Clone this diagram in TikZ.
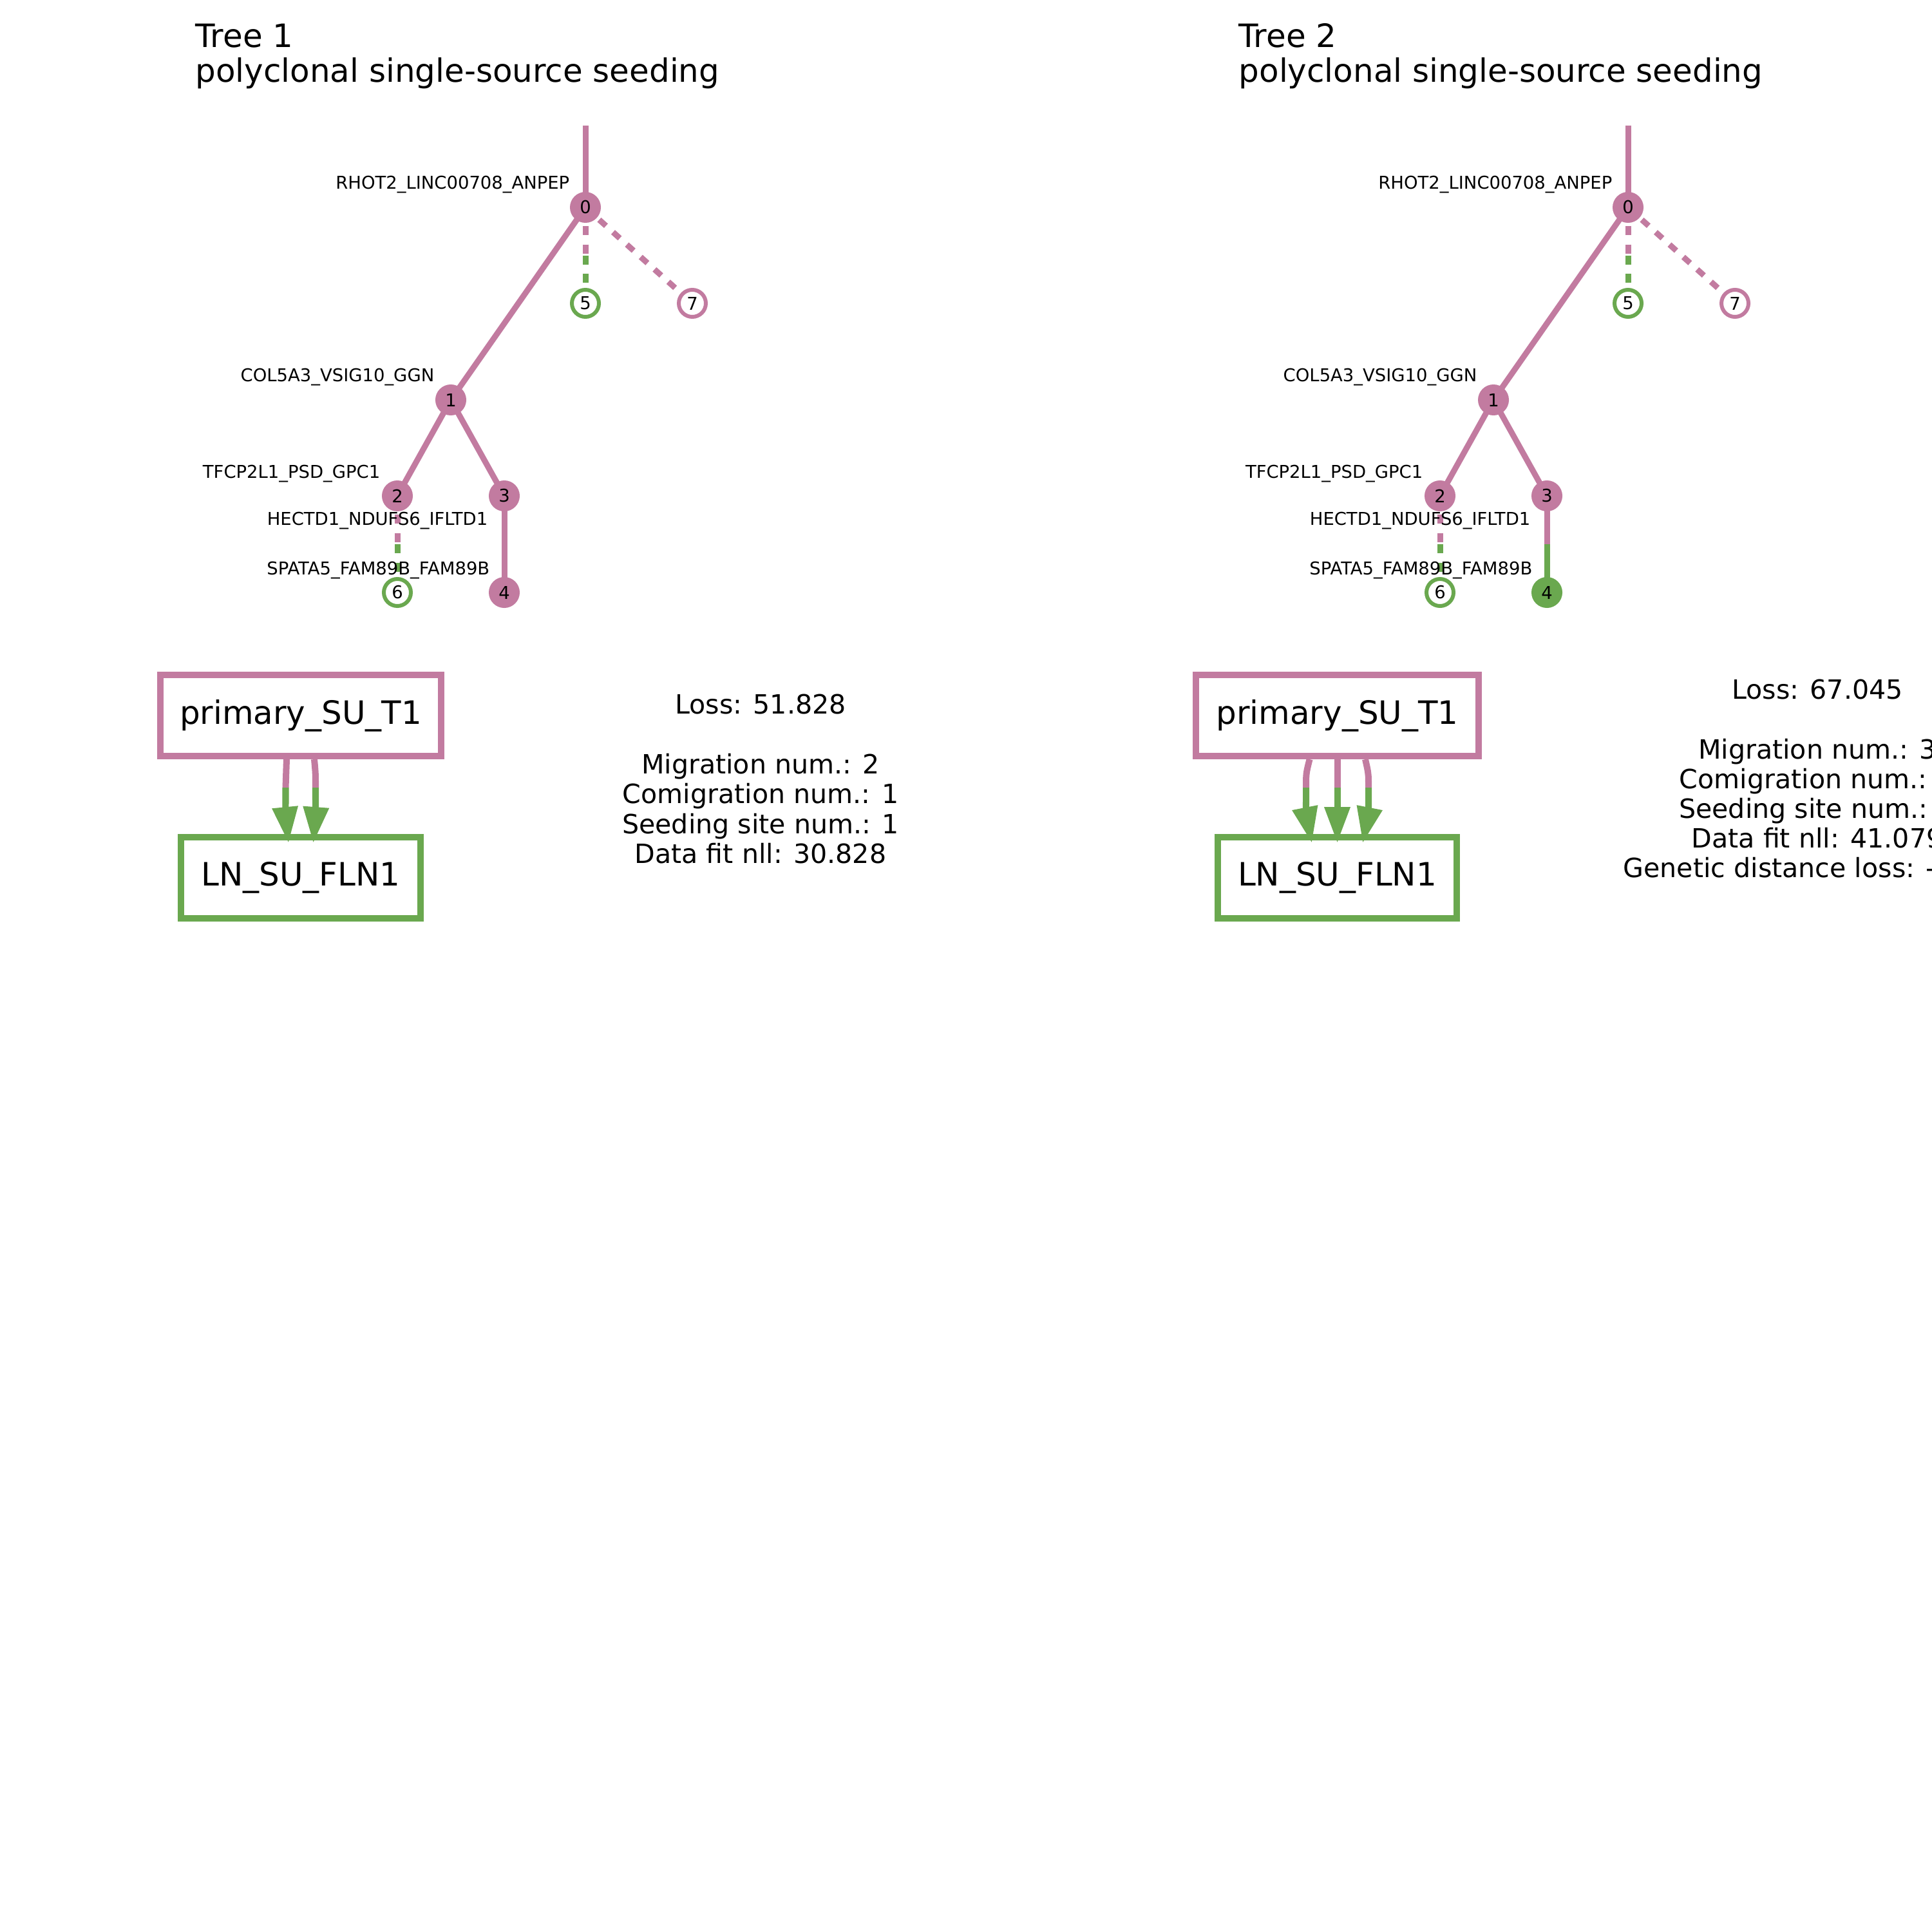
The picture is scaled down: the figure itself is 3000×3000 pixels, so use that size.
\documentclass[tikz,border=0pt]{standalone}
\usepackage{fontspec}
\setmainfont{DejaVu Sans}
\usetikzlibrary{arrows.meta,calc,backgrounds}
\definecolor{pk}{HTML}{C27BA0}
\definecolor{gn}{HTML}{6AA84F}
\newcommand\lblf{\fontsize{7.8}{9}\selectfont}
\newcommand\titf{\fontsize{14.2}{17}\selectfont}
\newcommand\sitef{\fontsize{14.2}{17}\selectfont}
\newcommand\statf{\fontsize{11.7}{14}\selectfont}
\tikzset{
  fnode/.style={circle,fill=#1,minimum size=13.66pt,inner sep=0pt,font=\lblf},
  onode/.style={circle,draw=#1,fill=white,line width=1.7pt,minimum size=11.95pt,inner sep=0pt,font=\lblf},
  sedge/.style={line width=2.56pt,draw=#1},
  dedge/.style={line width=2.56pt,draw=#1,dash pattern=on 4pt off 4.2pt},
  glabel/.style={anchor=base east,inner sep=0pt,font=\lblf},
  ttl/.style={anchor=base west,inner sep=0pt,font=\titf},
  site/.style={rectangle,draw=#1,line width=2.85pt,inner sep=0pt,font=\sitef,fill=white},
  stat/.style={anchor=base,inner sep=0pt,font=\statf},
  mig/.style={line width=2.85pt,draw=#1},
  migtip/.style={line width=2.85pt,draw=#1,fill=#1,-{Triangle[length=15.9pt,width=10.8pt]}},
}
\begin{document}
\begin{tikzpicture}[x=0.01cm,y=-0.01cm]
\useasboundingbox (0,0) rectangle (3000,3000);
\clip (0,0) rectangle (3000,3000);

% ---------------- Tree 1 ----------------
\node[ttl] (t1a) at (303,74) {Tree 1};
\node[ttl] (t1b) at (303,128) {polyclonal single-source seeding};

\coordinate (ar) at (909,195);
\node[fnode=pk] (a0) at (909,322) {0};
\node[onode=gn] (a5) at (909,471) {5};
\node[onode=pk] (a7) at (1075,471) {7};
\node[fnode=pk] (a1) at (700,621) {1};
\node[fnode=pk] (a2) at (617,770) {2};
\node[fnode=pk] (a3) at (783,770) {3};
\node[onode=gn] (a6) at (617,920) {6};
\node[fnode=pk] (a4) at (783,920) {4};

\begin{pgfonlayer}{background}
\draw[sedge=pk] (ar) -- (a0.center);
\draw[sedge=pk] (a0.center) -- (a1.center);
\draw[dedge=pk] (a0.center) -- ($(a0)!0.5!(a5)$);
\draw[dedge=gn] ($(a0)!0.5!(a5)$) -- (a5.center);
\draw[dedge=pk] (a0.center) -- (a7.center);
\draw[sedge=pk] (a1.center) -- (a2.center);
\draw[sedge=pk] (a1.center) -- (a3.center);
\draw[dedge=pk] (a2.center) -- ($(a2)!0.5!(a6)$);
\draw[dedge=gn] ($(a2)!0.5!(a6)$) -- (a6.center);
\draw[sedge=pk] (a3.center) -- (a4.center);
\end{pgfonlayer}

\node[glabel] (la0) at (885,293) {RHOT2\_LINC00708\_ANPEP};
\node[glabel] (la1) at (675,592) {COL5A3\_VSIG10\_GGN};
\node[glabel] (la2) at (591,742) {TFCP2L1\_PSD\_GPC1};
\node[glabel] (la3) at (758,815) {HECTD1\_NDUFS6\_IFLTD1};
\node[glabel] (la4) at (761,892) {SPATA5\_FAM89B\_FAM89B};

\node[site=pk,minimum width=124pt,minimum height=35.85pt] (p1) at (467,1111) {primary\_SU\_T1};
\node[site=gn,minimum width=105.8pt,minimum height=35.85pt] (l1) at (467,1363) {LN\_SU\_FLN1};

\coordinate (u1s) at ($(p1.south)+(-22,0)$);
\coordinate (u1m) at ($(p1.south)+(-23.5,44)$);
\coordinate (u1t) at ($(l1.north)+(-19,14)$);
\draw[mig=pk] (u1s) .. controls ($(u1m)+(0,-22)$) .. (u1m);
\draw[migtip=gn] (u1m) .. controls ($(u1m)+(0,40)$) .. (u1t);
\coordinate (u2s) at ($(p1.south)+(21,0)$);
\coordinate (u2m) at ($(p1.south)+(23,44)$);
\coordinate (u2t) at ($(l1.north)+(19.5,14)$);
\draw[mig=pk] (u2s) .. controls ($(u2m)+(0,-22)$) .. (u2m);
\draw[migtip=gn] (u2m) .. controls ($(u2m)+(0,40)$) .. (u2t);

\node[stat] (s1a) at (1181,1108) {Loss: 51.828};
\node[stat] (s1b) at (1181,1201) {Migration num.: 2};
\node[stat] (s1c) at (1181,1247) {Comigration num.: 1};
\node[stat] (s1d) at (1181,1294) {Seeding site num.: 1};
\node[stat] (s1e) at (1181,1340) {Data fit nll: 30.828};

% ---------------- Tree 2 ----------------
\node[ttl] (t2a) at (1923,74) {Tree 2};
\node[ttl] (t2b) at (1923,128) {polyclonal single-source seeding};

\coordinate (br) at (2528,195);
\node[fnode=pk] (b0) at (2528,322) {0};
\node[onode=gn] (b5) at (2528,471) {5};
\node[onode=pk] (b7) at (2694,471) {7};
\node[fnode=pk] (b1) at (2319,621) {1};
\node[fnode=pk] (b2) at (2236,770) {2};
\node[fnode=pk] (b3) at (2402,770) {3};
\node[onode=gn] (b6) at (2236,920) {6};
\node[fnode=gn] (b4) at (2402,920) {4};

\begin{pgfonlayer}{background}
\draw[sedge=pk] (br) -- (b0.center);
\draw[sedge=pk] (b0.center) -- (b1.center);
\draw[dedge=pk] (b0.center) -- ($(b0)!0.5!(b5)$);
\draw[dedge=gn] ($(b0)!0.5!(b5)$) -- (b5.center);
\draw[dedge=pk] (b0.center) -- (b7.center);
\draw[sedge=pk] (b1.center) -- (b2.center);
\draw[sedge=pk] (b1.center) -- (b3.center);
\draw[dedge=pk] (b2.center) -- ($(b2)!0.5!(b6)$);
\draw[dedge=gn] ($(b2)!0.5!(b6)$) -- (b6.center);
\draw[sedge=pk] (b3.center) -- ($(b3)!0.5!(b4)$);
\draw[sedge=gn] ($(b3)!0.5!(b4)$) -- (b4.center);
\end{pgfonlayer}

\node[glabel] (lb0) at (2504,293) {RHOT2\_LINC00708\_ANPEP};
\node[glabel] (lb1) at (2294,592) {COL5A3\_VSIG10\_GGN};
\node[glabel] (lb2) at (2210,742) {TFCP2L1\_PSD\_GPC1};
\node[glabel] (lb3) at (2377,815) {HECTD1\_NDUFS6\_IFLTD1};
\node[glabel] (lb4) at (2380,892) {SPATA5\_FAM89B\_FAM89B};

\node[site=pk,minimum width=124.9pt,minimum height=35.85pt] (p2) at (2076.5,1111) {primary\_SU\_T1};
\node[site=gn,minimum width=105.5pt,minimum height=35.85pt] (l2) at (2076.5,1363) {LN\_SU\_FLN1};

\coordinate (v1s) at ($(p2.south)+(-43,0)$);
\coordinate (v1m) at ($(p2.south)+(-48.5,44)$);
\coordinate (v1t) at ($(l2.north)+(-39.5,14)$);
\draw[mig=pk] (v1s) .. controls ($(v1m)+(0,-22)$) .. (v1m);
\draw[migtip=gn] (v1m) .. controls ($(v1m)+(0,40)$) .. (v1t);
\coordinate (v2s) at ($(p2.south)+(0,0)$);
\coordinate (v2m) at ($(p2.south)+(0,44)$);
\coordinate (v2t) at ($(l2.north)+(0,14)$);
\draw[mig=pk] (v2s) -- (v2m);
\draw[migtip=gn] (v2m) -- (v2t);
\coordinate (v3s) at ($(p2.south)+(43.5,0)$);
\coordinate (v3m) at ($(p2.south)+(48.5,44)$);
\coordinate (v3t) at ($(l2.north)+(39.5,14)$);
\draw[mig=pk] (v3s) .. controls ($(v3m)+(0,-22)$) .. (v3m);
\draw[migtip=gn] (v3m) .. controls ($(v3m)+(0,40)$) .. (v3t);

\node[stat] (s2a) at (2822,1085) {Loss: 67.045};
\node[stat] (s2b) at (2822,1178) {Migration num.: 3};
\node[stat] (s2c) at (2822,1224) {Comigration num.: 1};
\node[stat] (s2d) at (2822,1270) {Seeding site num.: 1};
\node[stat] (s2e) at (2822,1316) {Data fit nll: 41.079};
\node[stat] (s2f) at (2822,1362) {Genetic distance loss: -0.034};
\end{tikzpicture}
\end{document}
